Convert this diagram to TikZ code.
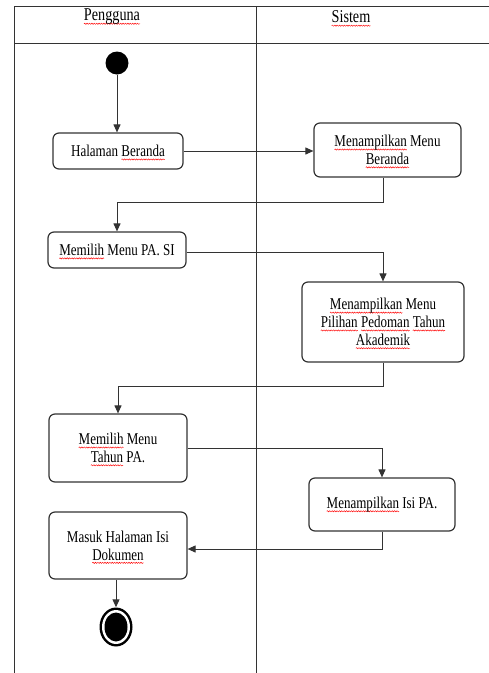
\documentclass[tikz,border=0pt]{standalone}
\usepackage{fontspec}
\setmainfont[FakeStretch=0.79]{Liberation Serif}
\usetikzlibrary{arrows.meta,shapes.geometric,decorations.pathmorphing}
\definecolor{ln}{HTML}{333333}
\newsavebox\sqbox
\newcommand\sq[1]{\sbox\sqbox{#1}\leavevmode\rlap{\tikz[overlay]\draw[red,sharp corners,line width=0.45pt,decorate,decoration={snake,amplitude=0.6pt,segment length=2.4pt}] (0pt,-2.8pt) -- (\the\wd\sqbox,-2.8pt);}\usebox\sqbox}
\begin{document}
\begin{tikzpicture}[x=1pt,y=-1pt,
  act/.style={draw=ln,line width=1.2pt,rounded corners=6pt,align=center,
    inner sep=0pt,font=\fontsize{16.5}{17.8}\selectfont,text=black},
  arr/.style={draw=ln,line width=1pt,-{Triangle[length=8pt,width=7pt]}},
  tbl/.style={draw=ln,line width=1pt},
  hdr/.style={font=\fontsize{18}{19}\selectfont,inner sep=0pt}]
\useasboundingbox (0,0) rectangle (489,673);
% swimlane table
\draw[tbl] (14,673) -- (14,6) -- (489,6);
\draw[tbl] (14,43) -- (489,43);
\draw[tbl] (256,6) -- (256,673);
\node[hdr] (hU) at (112,17) {\sq{Pengguna}};
\node[hdr] (hS) at (351,17) {\sq{Sistem}};
% nodes
\node[circle,fill=black,minimum size=23pt,inner sep=0pt] (start) at (117,63) {};
\node[act,minimum width=130pt,minimum height=36pt] (hb) at (118,151) {Halaman \sq{Beranda}};
\node[act,minimum width=147pt,minimum height=54pt] (mmb) at (387.5,150) {\sq{Menampilkan} Menu\\\sq{Beranda}};
\node[act,minimum width=138pt,minimum height=36pt] (mps) at (117,250) {\sq{Memilih} Menu PA. SI};
\node[act,minimum width=162pt,minimum height=80pt] (mpp) at (383,322) {\sq{Menampilkan} Menu\\\sq{Pilihan} \sq{Pedoman} \sq{Tahun}\\\sq{Akademik}};
\node[act,minimum width=138pt,minimum height=68pt] (mtp) at (118,448) {\sq{Memilih} Menu\\\sq{Tahun} PA.};
\node[act,minimum width=146pt,minimum height=53pt] (mip) at (382,504.5) {\sq{Menampilkan} Isi PA.};
\node[act,minimum width=138pt,minimum height=67pt] (mhd) at (118,545.5) {Masuk Halaman Isi\\\sq{Dokumen}};
% end node
\node[ellipse,fill=black,minimum width=33pt,minimum height=39pt,inner sep=0pt] (end) at (116,627) {};
\fill[white] (end.center) ellipse [x radius=14pt,y radius=17pt];
\fill[black] (end.center) ellipse [x radius=11.5pt,y radius=14.5pt];
% connectors
\draw[arr] (start.south) -- (start.south |- hb.north);
\draw[arr] (hb.east) -- (hb.east -| mmb.west);
\draw[arr] ([xshift=-4.5pt]mmb.south) -- ++(0,25) -| (mps.north);
\draw[arr] ([yshift=-2pt]mps.east) -| (mpp.north);
\draw[arr] (mpp.south) -- ++(0,24) -| (mtp.north);
\draw[arr] (mtp.east) -| (mip.north);
\draw[arr] (mip.south) |- ([yshift=-3.5pt]mhd.east);
\draw[arr] (end.north |- mhd.south) -- (end.north);
\end{tikzpicture}
\end{document}
